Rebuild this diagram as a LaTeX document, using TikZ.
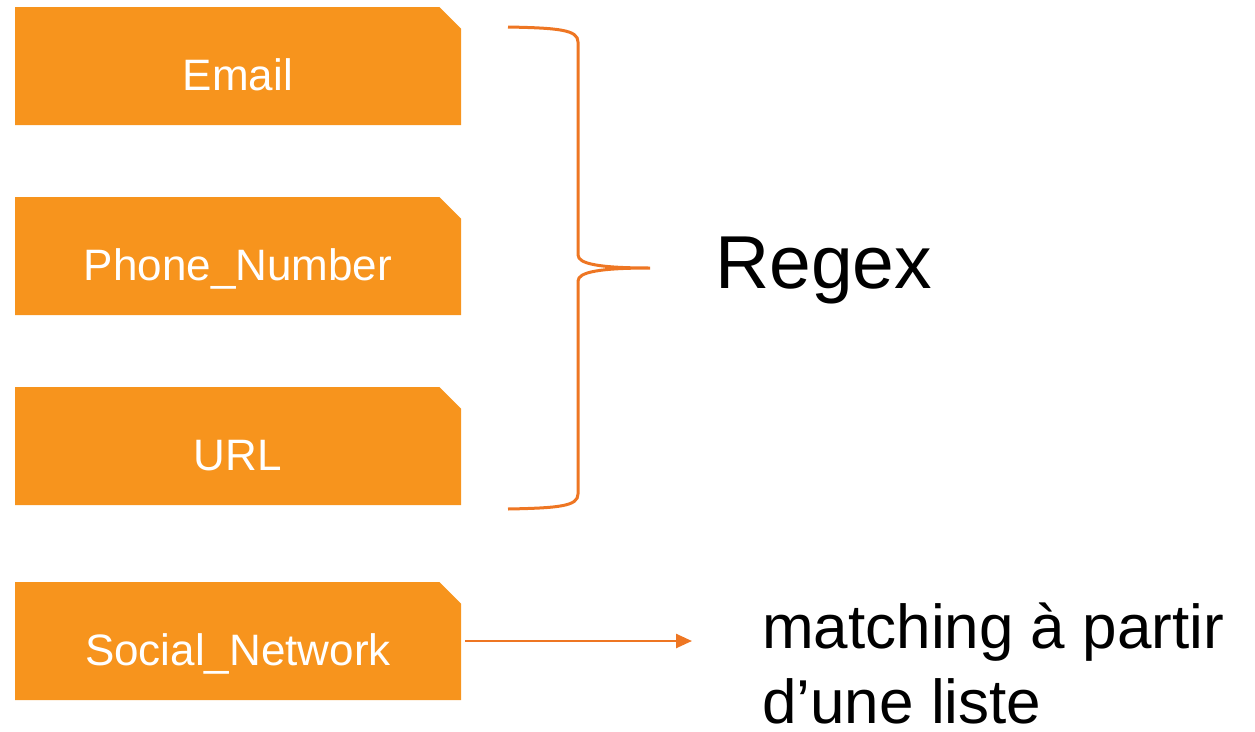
\documentclass[tikz,border=0pt]{standalone}
\usepackage{fontspec}
\setmainfont{Liberation Sans}
\usetikzlibrary{positioning,shapes.misc,arrows.meta}
\definecolor{boxorange}{HTML}{F7941D}
\definecolor{lineorange}{HTML}{EE7623}
\begin{document}
\begin{tikzpicture}[
x=1pt, y=-1pt,
field/.style={chamfered rectangle, chamfered rectangle corners=north east,
  chamfered rectangle xsep=18pt, fill=boxorange, text=white, inner sep=0pt,
  minimum width=446pt, minimum height=118pt, text height=48pt, text depth=0pt,
  font=\fontsize{44}{50}\selectfont},
link/.style={draw=lineorange, line width=3pt}
]
\useasboundingbox (0,0) rectangle (1255,731);

\node[field] (email) at (238,66) {Email};
\node[field] (phone) at (238,256) {Phone\_Number};
\node[field] (url) at (238,446) {URL};
\node[field] (social) at (238,641) {Social\_Network};

% brace
\coordinate (tip) at (650,268);
\draw[link] (508,27) .. controls (560,28) and (578,30) .. (578,42)
  -- (578,255) .. controls (578,264) and (600,268) .. (tip)
  .. controls (600,268) and (578,272) .. (578,281)
  -- (578,494) .. controls (578,506) and (560,508) .. (508,509);
\node[anchor=base west, inner sep=0pt, font=\fontsize{75}{90}\selectfont] (regex) at (715,288) {Regex};

\node[anchor=base west, align=left, inner sep=0pt, text depth=0pt,
  font=\fontsize{62}{75}\selectfont] (list) at (762,723) {matching à partir\\d’une liste};
\draw[link, line width=2.5pt, -{Triangle[length=16pt,width=14pt]}] (social.east) ++(4,0) -- (692,641);
\end{tikzpicture}
\end{document}
